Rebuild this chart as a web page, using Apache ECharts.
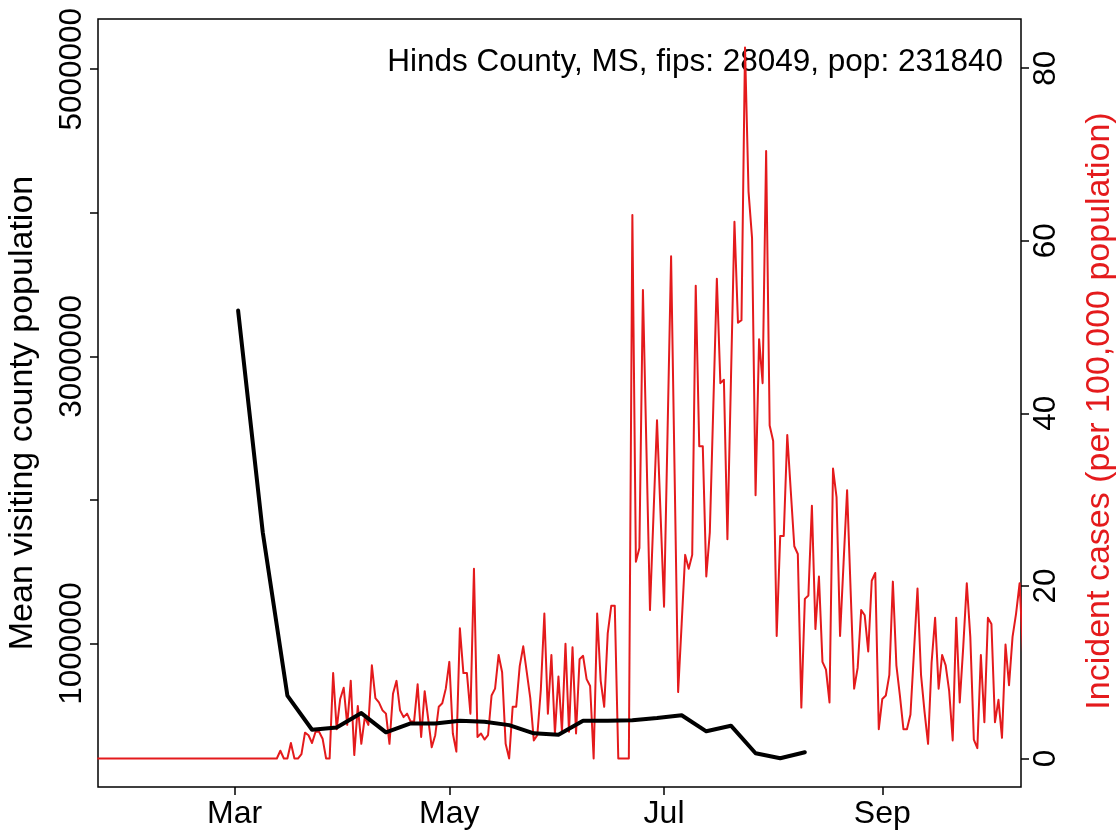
<!DOCTYPE html>
<html><head><meta charset="utf-8">
<script src="https://cdn.jsdelivr.net/npm/echarts@6/dist/echarts.min.js"></script>
<style>html,body{margin:0;padding:0;background:#fff}#c{width:1119px;height:830px}</style>
</head><body><div id="c"></div>
<script>
// ---- data ----
const redStartDate = '2020-01-22';
const redValues = [
  0,0,0,0,0,0,0,0,0,0, 0,0,0,0,0,0,0,0,0,0, 0,0,0,0,0,0,0,0,0,0,
  0,0,0,0,0,0,0,0,0,0, 0,0,0,0,0,0,0,0,0,0, 0,0,
  0.9, 0, 0, 1.8, 0, 0, 0.5, 3.0, 2.7, 1.8,
  3.1, 3.1, 2.3, 0, 0, 9.9, 3.4, 6.9, 8.2, 3.9,
  9.0, 0.4, 6.1, 1.7, 4.8, 3.9, 10.8, 7.0, 6.5, 5.6,
  5.2, 1.7, 7.5, 9.0, 5.6, 4.8, 5.2, 4.3, 4.3, 8.6,
  2.5, 7.8, 4.6, 1.3, 2.7, 6.0, 6.4, 8.1, 11.2, 2.9,
  0.8, 15.1, 9.9, 9.9, 5.2, 22, 2.5, 2.9, 2.2, 2.7,
  7.3, 8.1, 12.0, 10.0, 1.7, 0, 6.0, 6.0, 10.7, 13.0,
  10.0, 7.0, 2.1, 2.7, 8.0, 16.8, 5.2, 12.0, 2.9, 9.5,
  3.1, 13.3, 3.1, 12.9, 2.9, 11.5, 11.9, 9.2, 8.4, 0,
  16.8, 9, 6, 14.5, 17.7, 17.7, 0, 0, 0, 0,
  63.0, 22.8, 24.4, 54.3, 35.8, 17.2, 28.2, 39.2, 28.4, 17.6,
  37.9, 58.2, 33, 7.7, 15.6, 23.6, 22.0, 23.6, 54.8, 36.2,
  36.2, 21.1, 26.2, 40.9, 55.6, 43.5, 43.9, 25.4, 43.8, 62.2,
  50.5, 50.8, 82.4, 65.7, 60.3, 30.5, 48.6, 43.5, 70.4, 38.6,
  36.8, 14.2, 25.8, 25.8, 37.5, 31, 24.6, 23.7, 5.9, 18.5,
  18.9, 29.3, 15.0, 21.1, 11.2, 10.3, 6.5, 33.6, 30.3, 14.2,
  22.7, 31.1, 19.5, 8.1, 10.5, 17.2, 16.6, 12.4, 20.6, 21.5,
  3.4, 6.9, 7.3, 9.7, 20.5, 10.8, 7.3, 3.4, 3.4, 5.1,
  12.4, 19.7, 9.7, 5.4, 1.7, 11.1, 16.3, 8.1, 12.0, 10.8,
  7.8, 2.1, 16.3, 6.5, 13.0, 20.3, 14.1, 2.2, 1.2, 12.0,
  4.2, 16.3, 15.6, 4.2, 6.8, 2.4, 13.2, 8.5, 14.1, 16.8,
  20.3, 12
];
const blackDates = [
  '2020-03-02','2020-03-09','2020-03-16','2020-03-23','2020-03-30',
  '2020-04-06','2020-04-13','2020-04-20','2020-04-27',
  '2020-05-04','2020-05-11','2020-05-18','2020-05-25',
  '2020-06-01','2020-06-08','2020-06-15','2020-06-22','2020-06-29',
  '2020-07-06','2020-07-13','2020-07-20','2020-07-27',
  '2020-08-03','2020-08-10'
];
const blackValues = [
  3320000, 1775000, 637000, 399000, 415000,
  515000, 381000, 443000, 443000,
  461000, 454000, 431000, 374000,
  364000, 461000, 461000, 465000, 480000,
  500000, 388000, 427000, 235000,
  200000, 242000
];
const xTickDates = ['2020-03-01','2020-05-01','2020-07-01','2020-09-01'];
const xTickLabels = ['Mar','May','Jul','Sep'];
const leftTickValues = [1000000,2000000,3000000,4000000,5000000];
const leftLabelValues = [1000000,3000000,5000000];
const rightTickValues = [0,20,40,60,80];
const titleText = 'Hinds County, MS, fips: 28049, pop: 231840';
const leftAxisName = 'Mean visiting county population';
const rightAxisName = 'Incident cases (per 100,000 population)';

// ---- build ----
const DAY = 86400000;
const toDay = s => Date.parse(s + 'T00:00:00Z') / DAY;
const redStart = toDay(redStartDate);
const redData = redValues.map((v, i) => [redStart + i, v]);
const blackData = blackDates.map((d, i) => [toDay(d), blackValues[i]]);
const xTickDays = xTickDates.map(toDay);

const FONT = 'Liberation Sans, Arial, Helvetica, sans-serif';
const FS = 31.5;
const FS_NAME = 34;
const RED = '#E41A1C';

const chart = echarts.init(document.getElementById('c'), null, {renderer: 'canvas'});
chart.setOption({
  animation: false,
  backgroundColor: '#fff',
  grid: {left: 98, right: 98, top: 19, bottom: 43, show: true, borderColor: '#000', borderWidth: 1.5,
    backgroundColor: 'transparent', containLabel: false, outerBoundsMode: 'none'},
  xAxis: {
    type: 'value',
    min: toDay('2020-01-22') + 0.2,
    max: toDay('2020-10-10') + 0.4,
    axisLine: {show: false, onZero: false},
    splitLine: {show: false},
    axisTick: {show: true, length: 8, lineStyle: {color: '#000', width: 1.5}, customValues: xTickDays},
    axisLabel: {
      customValues: xTickDays, margin: 11, color: '#000', fontFamily: FONT, fontSize: 32,
      formatter: v => { const i = xTickDays.indexOf(Math.round(v)); return i >= 0 ? xTickLabels[i] : ''; }
    }
  },
  yAxis: [
    {
      type: 'value', position: 'left', min: 0, max: 5350000,
      axisLine: {show: false},
      splitLine: {show: false},
      axisTick: {show: true, length: 8, lineStyle: {color: '#000', width: 1.5}, customValues: leftTickValues},
      axisLabel: {customValues: leftLabelValues, rotate: 90, margin: 10, color: '#000', fontFamily: FONT, fontSize: FS,
        formatter: v => String(v)},
      name: leftAxisName, nameLocation: 'middle', nameRotate: 90, nameGap: 58,
      nameTextStyle: {color: '#000', fontFamily: FONT, fontSize: FS_NAME, padding: [0, 20, 0, 0]}
    },
    {
      type: 'value', position: 'right', min: -3.3, max: 85.7,
      axisLine: {show: false},
      splitLine: {show: false},
      axisTick: {show: true, length: 8, lineStyle: {color: '#000', width: 1.5}, customValues: rightTickValues},
      axisLabel: {customValues: rightTickValues, rotate: 90, margin: 9, color: '#000', fontFamily: FONT, fontSize: FS,
        formatter: v => String(v)},
      name: rightAxisName, nameLocation: 'middle', nameRotate: 90, nameGap: 62,
      nameTextStyle: {color: RED, fontFamily: FONT, fontSize: FS_NAME, padding: [0, 16, 0, 0]}
    }
  ],
  series: [
    {
      type: 'line', yAxisIndex: 1, data: redData, showSymbol: false, clip: true,
      lineStyle: {color: RED, width: 2, join: 'round'}, z: 2
    },
    {
      type: 'line', yAxisIndex: 0, data: blackData, showSymbol: false, clip: true,
      lineStyle: {color: '#000', width: 4, cap: 'round', join: 'round'}, z: 3
    }
  ],
  graphic: [{
    type: 'text', right: 116, top: 46,
    style: {text: titleText, fill: '#000', font: '31.5px ' + FONT, textAlign: 'right'}
  }]
});
</script>
</body></html>
